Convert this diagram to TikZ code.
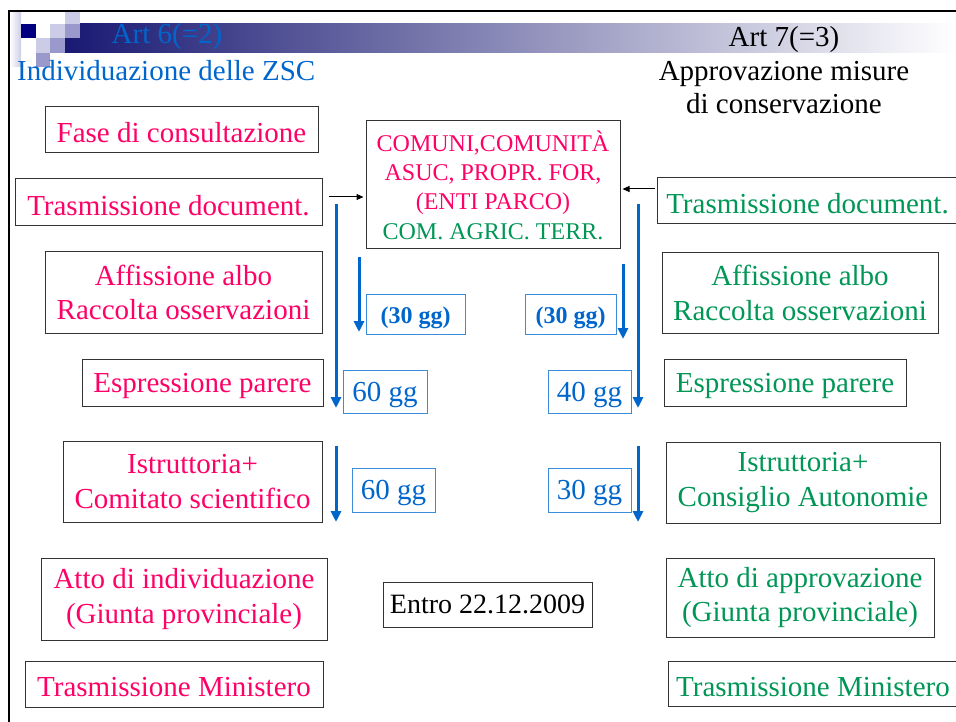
\documentclass[tikz,border=0pt]{standalone}
\usepackage{fontspec}
\setmainfont{Liberation Serif}
\usetikzlibrary{arrows.meta}
\definecolor{pinkt}{RGB}{255,0,102}
\definecolor{greent}{RGB}{0,150,85}
\definecolor{bluet}{RGB}{0,102,204}
\definecolor{blueb}{RGB}{60,140,220}
\definecolor{navysq}{RGB}{0,0,128}
\definecolor{lavpale}{RGB}{204,204,230}
\definecolor{lavmid}{RGB}{153,153,204}
\definecolor{barl}{RGB}{25,25,115}
\definecolor{barm}{RGB}{170,170,195}
\newcommand\mystrut{\rule[-7pt]{0pt}{33pt}}
\newcommand\topstrut{\rule{0pt}{26pt}}
\begin{document}
\begin{tikzpicture}[x=1pt,y=-1pt,
  pbox/.style={draw=black!80,line width=1pt,inner sep=0pt,align=center,
    text=pinkt,font=\fontsize{29}{34.5}\selectfont,
    execute at begin node=\topstrut},
  gbox/.style={pbox,text=greent},
  lbox/.style={draw=blueb,line width=0.9pt,inner sep=0pt,align=center,
    text=bluet,font=\fontsize{29}{34}\selectfont,
    execute at begin node=\mystrut},
  flow/.style={draw=bluet,line width=3pt,-{Triangle[width=10pt,length=11pt]}},
  thinarrow/.style={draw=black,line width=1pt,-{Triangle[width=6pt,length=7pt]}}]
\useasboundingbox (0,0) rectangle (956,722);
% banner
\shade[left color=barl,middle color=barm,right color=white] (65,24) rectangle (956,53);
\shade[left color=white,right color=lavpale] (10,13) rectangle (21,67);
\fill[lavpale] (65,12) rectangle (80,24);
\fill[navysq] (21,24) rectangle (36,38);
\fill[lavpale] (50,24) rectangle (65,38);
\fill[lavmid] (65,24) rectangle (80,38);
\fill[lavpale] (36,38) rectangle (50,53);
\fill[lavmid] (50,38) rectangle (65,53);
\fill[lavmid] (36,53) rectangle (50,67);
\draw[line width=2.5pt] (9,722) -- (9,11) -- (956,11);
% titles
\node[text=bluet,font=\fontsize{29}{34}\selectfont,inner sep=0pt] (art6) at (167,37) {Art 6(=2)};
\node[text=bluet,font=\fontsize{29}{34}\selectfont,inner sep=0pt,anchor=west] (ind) at (17,71) {Individuazione delle ZSC};
\node[font=\fontsize{29}{33.5}\selectfont,inner sep=0pt,align=center] (art7) at (784,70.5) {Art 7(=3)\\Approvazione misure\\di conservazione};
% left column
\node[pbox,minimum width=273pt,minimum height=46pt] (fase) at (181.5,130) {Fase di consultazione};
\node[pbox,minimum width=307pt,minimum height=47pt] (trasL) at (168.5,202.5) {Trasmissione document.};
\node[pbox,minimum width=277pt,minimum height=81pt] (affL) at (183.5,292.5) {Affissione albo\\Raccolta osservazioni};
\node[pbox,minimum width=241pt,minimum height=47pt] (espL) at (202.5,382.5) {Espressione parere};
\node[pbox,minimum width=259pt,minimum height=81pt] (istL) at (192.5,481.5) {Istruttoria+\\Comitato scientifico};
\node[pbox,minimum width=286pt,minimum height=82pt] (attoL) at (184,599) {Atto di individuazione\\(Giunta provinciale)};
\node[pbox,minimum width=298pt,minimum height=46pt] (minL) at (174,684) {Trasmissione Ministero};
% right column
\node[gbox,minimum width=301pt,minimum height=46pt] (trasR) at (807.5,201) {Trasmissione document.};
\node[gbox,minimum width=276pt,minimum height=80pt] (affR) at (800,293) {Affissione albo\\Raccolta osservazioni};
\node[gbox,minimum width=242pt,minimum height=47pt] (espR) at (785,382.5) {Espressione parere};
\node[gbox,minimum width=274pt,minimum height=81pt] (istR) at (803,482.5) {Istruttoria+\\Consiglio Autonomie};
\node[gbox,minimum width=268pt,minimum height=79pt] (attoR) at (800,597.5) {Atto di approvazione\\(Giunta provinciale)};
\node[gbox,minimum width=290pt,minimum height=45pt] (minR) at (813,683.5) {Trasmissione Ministero};
% centre
\node[draw=black!80,line width=1pt,inner sep=0pt,minimum width=254pt,minimum height=128pt,align=center,
  font=\fontsize{24}{29.3}\selectfont] (ctr) at (493,185)
  {\textcolor{pinkt}{COMUNI,COMUNITÀ}\\\textcolor{pinkt}{ASUC, PROPR. FOR,}\\\textcolor{pinkt}{(ENTI PARCO)}\\\textcolor{greent}{COM. AGRIC. TERR.}};
\node[draw=black!80,line width=1pt,inner sep=0pt,minimum width=209pt,minimum height=45pt,
  font=\fontsize{28}{33}\selectfont] (entro) at (487.5,604.5) {Entro 22.12.2009};
% day labels
\node[lbox,minimum width=99pt,minimum height=40pt,font=\fontsize{24}{28}\selectfont\bfseries] (p30L) at (415.5,314) {(30 gg)};
\node[lbox,minimum width=91pt,minimum height=40pt,font=\fontsize{24}{28}\selectfont\bfseries] (p30R) at (570.5,314) {(30 gg)};
\node[lbox,minimum width=84pt,minimum height=43pt] (g60a) at (385,392) {60 gg};
\node[lbox,minimum width=83pt,minimum height=43pt] (g40) at (589.5,392) {40 gg};
\node[lbox,minimum width=83pt,minimum height=44pt] (g60b) at (393.5,490) {60 gg};
\node[lbox,minimum width=83pt,minimum height=44pt] (g30) at (589.5,490) {30 gg};
% arrow end points
\coordinate (aL1s) at (336,204); \coordinate (aL1e) at (336,408);
\coordinate (aR1s) at (638,204); \coordinate (aR1e) at (638,408);
\coordinate (aL2s) at (359,257); \coordinate (aL2e) at (359,332);
\coordinate (aR2s) at (623,264); \coordinate (aR2e) at (623,339);
\coordinate (aL3s) at (336,446); \coordinate (aL3e) at (336,522);
\coordinate (aR3s) at (638,446); \coordinate (aR3e) at (638,522);
\draw[flow] (aL1s) -- (aL1e);
\draw[flow] (aR1s) -- (aR1e);
\draw[flow] (aL2s) -- (aL2e);
\draw[flow] (aR2s) -- (aR2e);
\draw[flow] (aL3s) -- (aL3e);
\draw[flow] (aR3s) -- (aR3e);
% black arrows
\draw[thinarrow,shorten >=8pt] ([xshift=6pt,yshift=5.5pt]trasL.east) -- ([xshift=6pt,yshift=5.5pt]trasL.east -| ctr.west);
\draw[thinarrow,shorten >=4pt] ([xshift=-2pt,yshift=12pt]trasR.west) -- ([xshift=-2pt,yshift=12pt]trasR.west -| ctr.east);
\end{tikzpicture}
\end{document}
